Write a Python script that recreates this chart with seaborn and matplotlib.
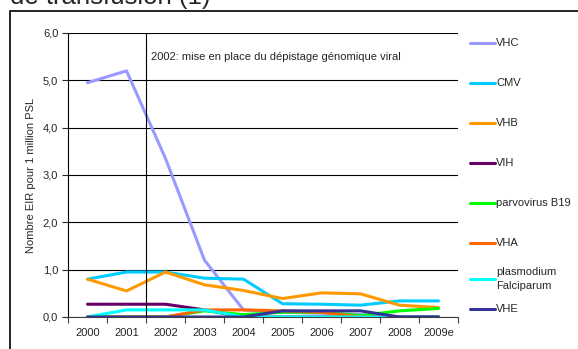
import pandas as pd
import seaborn as sns
import matplotlib.pyplot as plt
from matplotlib.patches import Rectangle
from matplotlib.lines import Line2D
from matplotlib.ticker import FuncFormatter, FixedLocator

years = ['2000', '2001', '2002', '2003', '2004', '2005', '2006', '2007', '2008', '2009e']
vhc = [4.95, 5.2, 3.35, 1.2, 0.15, 0.1, 0.08, 0.05, 0.0, 0.0]
cmv = [0.8, 0.95, 0.95, 0.82, 0.8, 0.28, 0.27, 0.25, 0.34, 0.34]
vhb = [0.8, 0.55, 0.95, 0.68, 0.56, 0.39, 0.51, 0.49, 0.25, 0.2]
vih = [0.27, 0.27, 0.27, 0.15, 0.0, 0.0, 0.0, 0.0, 0.0, 0.0]
parvo = [0.0, 0.0, 0.0, 0.13, 0.05, 0.1, 0.1, 0.03, 0.13, 0.18]
vha = [0.0, 0.0, 0.0, 0.15, 0.15, 0.13, 0.1, 0.0, 0.0, 0.0]
plasmo = [0.0, 0.15, 0.15, 0.15, 0.0, 0.0, 0.0, 0.0, 0.0, 0.0]
vhe = [0.0, 0.0, 0.0, 0.0, 0.0, 0.13, 0.13, 0.13, 0.0, 0.0]

names = ['VHC', 'CMV', 'VHB', 'VIH', 'parvovirus B19', 'VHA',
         'plasmodium\nFalciparum', 'VHE']
colors = ['#9999FF', '#00CCFF', '#FF9900', '#660066', '#00FF00', '#FF6600',
          '#00FFFF', '#333399']
series = [vhc, cmv, vhb, vih, parvo, vha, plasmo, vhe]

rows = []
for name, vals in zip(names, series):
    for i, v in enumerate(vals):
        rows.append({'pos': i, 'virus': name, 'value': v})
df = pd.DataFrame(rows)

sns.set_style('white')
plt.rcParams['font.family'] = ['Liberation Sans', 'DejaVu Sans']

W, H = 578, 349
fig = plt.figure(figsize=(W / 100, H / 100), dpi=100)
ax = fig.add_axes([68 / W, 1 - 317 / H, 390 / W, 284 / H])

sns.lineplot(data=df, x='pos', y='value', hue='virus', hue_order=names,
             palette=dict(zip(names, colors)), linewidth=2.2, ax=ax,
             legend=False)

ax.set_xlim(-0.5, 9.5)
ax.set_ylim(0, 6)
ax.set_yticks(range(7))
ax.yaxis.set_major_formatter(FuncFormatter(lambda v, p: f'{v:.1f}'.replace('.', ',')))
ax.set_xticks(range(len(years)))
ax.set_xticklabels(years)
ax.xaxis.set_minor_locator(FixedLocator([i - 0.5 for i in range(len(years) + 1)]))
ax.tick_params(axis='x', which='major', length=0, pad=8, labelsize=8)
ax.tick_params(axis='x', which='minor', length=4, width=0.8, color='#404040', bottom=True)
ax.tick_params(axis='y', length=4, width=0.8, labelsize=8, left=True, pad=3)
ax.grid(axis='y', color='black', linewidth=0.8)
ax.set_axisbelow(True)
ax.set_xlabel('')
ax.set_ylabel('Nombre EIR pour 1 million PSL', fontsize=8, labelpad=5)
for s in ['top', 'right']:
    ax.spines[s].set_visible(False)
ax.spines['left'].set_color('black')
ax.spines['bottom'].set_color('#404040')

ax.axvline(1.5, color='black', linewidth=0.8)
ax.text(1.63, 5.5, '2002: mise en place du dépistage génomique viral',
        fontsize=8, va='center')

# legend drawn by hand to keep Excel-like spacing
legend_y = [43, 83, 123, 163, 203, 243, 279, 309]
for name, c, ly in zip(names, colors, legend_y):
    fy = 1 - ly / H
    fig.add_artist(Line2D([470 / W, 495 / W], [fy, fy], color=c, linewidth=2.2,
                          transform=fig.transFigure))
    fig.text(496 / W, fy, name, fontsize=8, va='center', linespacing=1.45)

fig.text(0.018, 1 - 4 / H, 'de transfusion (1)', fontsize=18.5, va='baseline')
fig.patches.append(Rectangle((10 / W, -0.1), 1.0, 1 - 11 / H + 0.1,
                             transform=fig.transFigure, fill=False,
                             edgecolor='black', linewidth=1.2))

fig.savefig('out.png', dpi=100)
